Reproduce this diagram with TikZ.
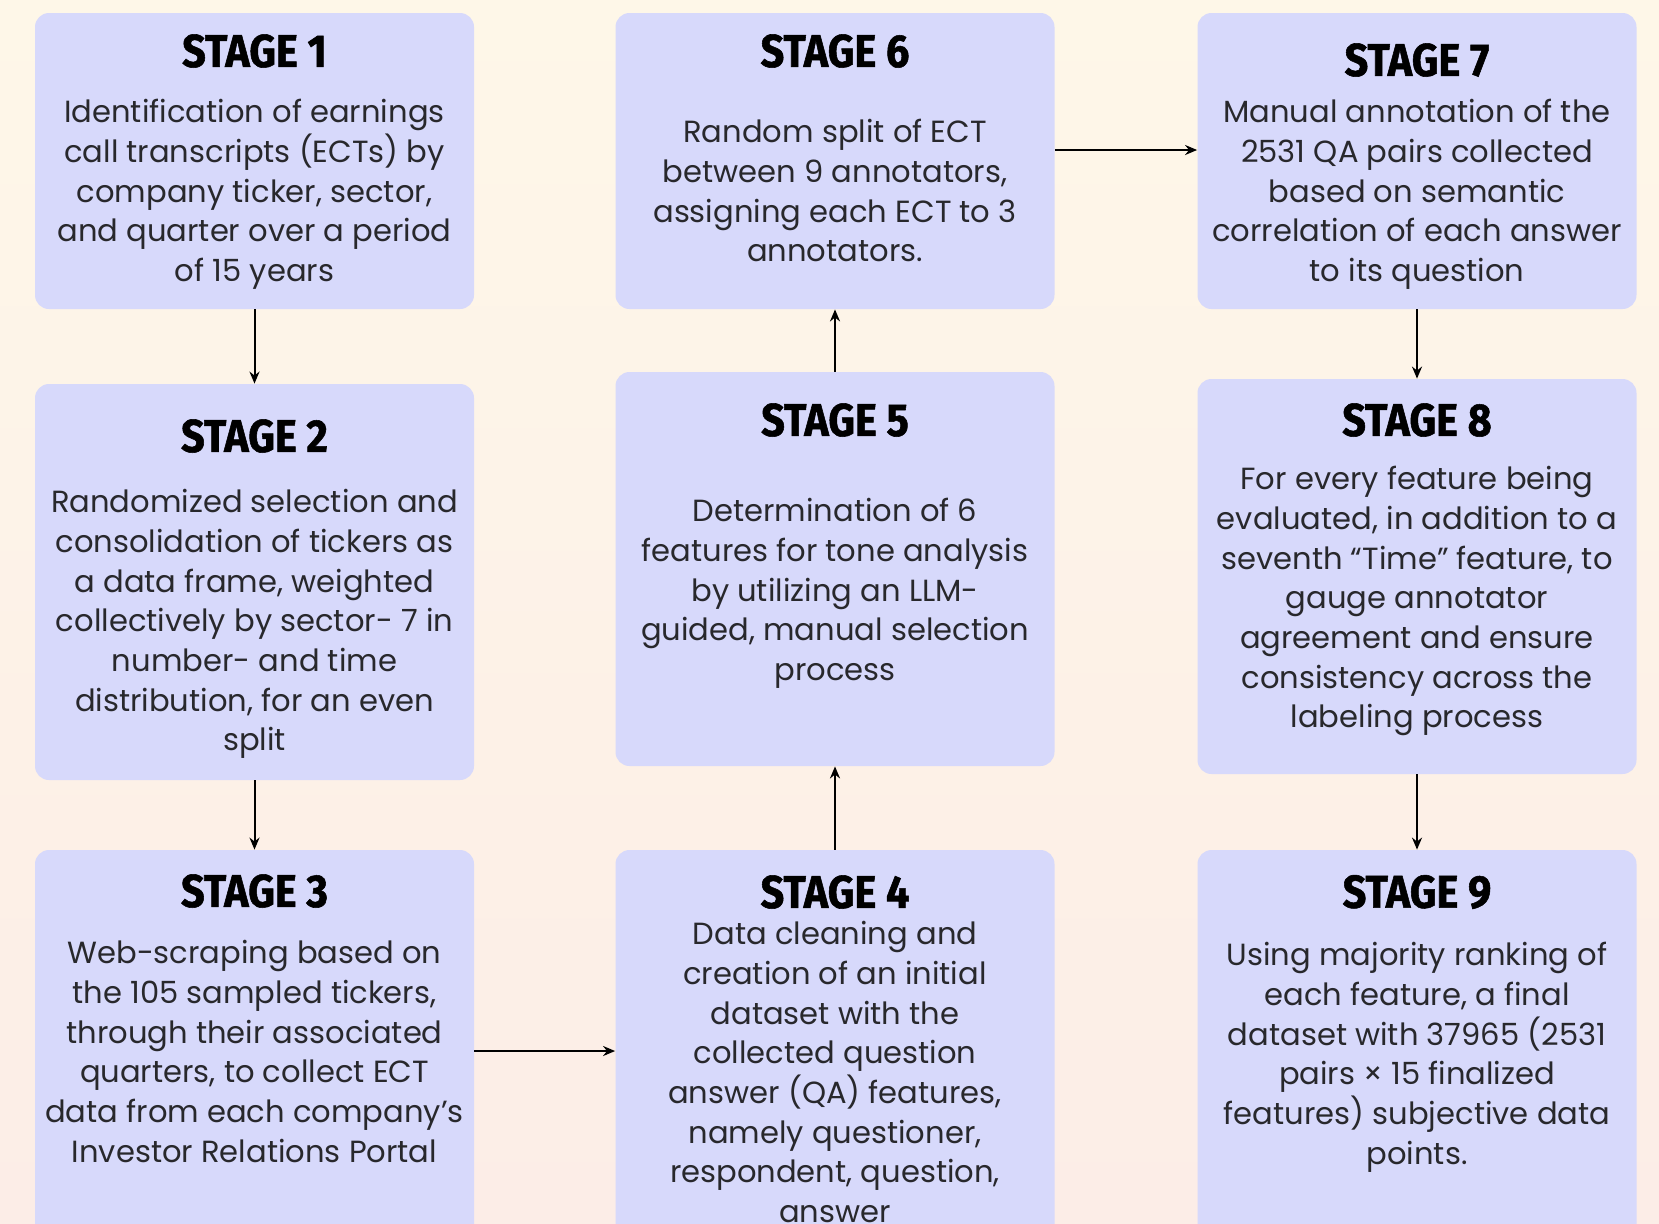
\documentclass[tikz,border=0pt]{standalone}
\usepackage{fontspec}
\setmainfont{Poppins}
\newfontfamily\headfont{Fira Sans}[FakeStretch=0.9,BoldFeatures={FakeBold=1.2}]
\usetikzlibrary{arrows.meta,positioning}
\definecolor{bgtop}{RGB}{254,247,232}
\definecolor{bgbot}{RGB}{252,237,231}
\definecolor{boxfill}{RGB}{215,217,251}
\definecolor{textgray}{RGB}{40,40,44}
\begin{document}
\begin{tikzpicture}[x=0.5pt,y=-0.5pt,
    stage box/.style={fill=boxfill,rounded corners=7pt,minimum width=219.5pt,inner sep=0pt},
    stage title/.style={font=\headfont\bfseries\fontsize{23pt}{23pt}\selectfont,inner sep=0pt},
    stage text/.style={font=\fontsize{15.3pt}{19.85pt}\selectfont,align=center,anchor=north,
                       inner sep=0pt,text=textgray},
    flow/.style={-{Stealth[length=6pt,width=5pt]},line width=1pt}]

    % Background
    \useasboundingbox (0,0) rectangle (1659,1223);
    \clip (0,0) rectangle (1659,1223);
    \shade[top color=bgtop,bottom color=bgbot] (0,0) rectangle (1659,1223);

    % Define stage boxes
    \node[stage box,minimum height=148pt] (s1) at (254.5,161) {};
    \node[stage box,minimum height=198pt] (s2) at (254.5,582) {};
    \node[stage box,minimum height=201pt] (s3) at (254.5,1051) {};
    \node[stage box,minimum height=201pt] (s4) at (835,1051) {};
    \node[stage box,minimum height=197pt] (s5) at (835,569) {};
    \node[stage box,minimum height=148pt] (s6) at (835,161) {};
    \node[stage box,minimum height=148pt] (s7) at (1417,161) {};
    \node[stage box,minimum height=197.5pt] (s8) at (1417,576.5) {};
    \node[stage box,minimum height=201pt] (s9) at (1417,1051) {};

    % Titles
    \node[stage title] (t1) at (254.5,51) {STAGE 1};
    \node[stage title] (t2) at (254.5,436) {STAGE 2};
    \node[stage title] (t3) at (254.5,891) {STAGE 3};
    \node[stage title] (t4) at (835,892) {STAGE 4};
    \node[stage title] (t5) at (835,420) {STAGE 5};
    \node[stage title] (t6) at (835,51) {STAGE 6};
    \node[stage title] (t7) at (1417,60) {STAGE 7};
    \node[stage title] (t8) at (1417,420) {STAGE 8};
    \node[stage title] (t9) at (1417,892) {STAGE 9};

    % Descriptions
    \node[stage text] (d1) at (254.5,99) {Identification of earnings\\call transcripts (ECTs) by\\company ticker, sector,\\and quarter over a period\\of 15 years};
    \node[stage text] (d2) at (254.5,489) {Randomized selection and\\consolidation of tickers as\\a data frame, weighted\\collectively by sector- 7 in\\number- and time\\distribution, for an even\\split};
    \node[stage text] (d3) at (254.5,940) {Web-scraping based on\\the 105 sampled tickers,\\through their associated\\quarters, to collect ECT\\data from each company’s\\Investor Relations Portal};
    \node[stage text] (d4) at (835,921) {Data cleaning and\\creation of an initial\\dataset with the\\collected question\\answer (QA) features,\\namely questioner,\\respondent, question,\\answer};
    \node[stage text] (d5) at (835,498) {Determination of 6\\features for tone analysis\\by utilizing an LLM-\\guided, manual selection\\process};
    \node[stage text] (d6) at (835,119) {Random split of ECT\\between 9 annotators,\\assigning each ECT to 3\\annotators.};
    \node[stage text] (d7) at (1417,99) {Manual annotation of the\\2531 QA pairs collected\\based on semantic\\correlation of each answer\\to its question};
    \node[stage text] (d8) at (1417,466) {For every feature being\\evaluated, in addition to a\\seventh “Time” feature, to\\gauge annotator\\agreement and ensure\\consistency across the\\labeling process};
    \node[stage text] (d9) at (1417,942) {Using majority ranking of\\each feature, a final\\dataset with 37965 (2531\\pairs × 15 finalized\\features) subjective data\\points.};

    % Draw connectors
    \draw[flow] (s1) -- (s2);
    \draw[flow] (s2) -- (s3);
    \draw[flow] (s3) -- (s4);
    \draw[flow] (s4) -- (s5);
    \draw[flow] (s5) -- (s6);
    \draw[flow] ([yshift=5.5pt]s6.east) -- ([yshift=5.5pt]s7.west);
    \draw[flow] (s7) -- (s8);
    \draw[flow] (s8) -- (s9);

\end{tikzpicture}
\end{document}
